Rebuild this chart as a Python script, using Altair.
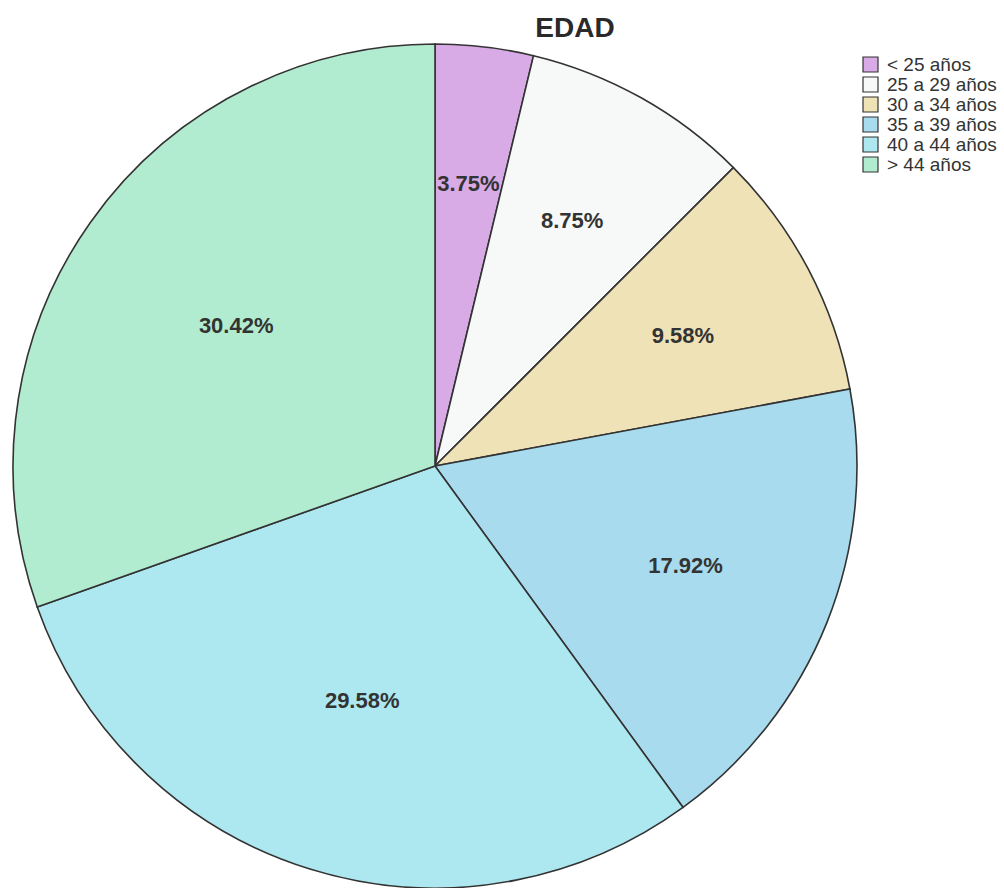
import altair as alt
import pandas as pd

categories = ["< 25 años", "25 a 29 años", "30 a 34 años", "35 a 39 años", "40 a 44 años", "> 44 años"]
percentages = [3.75, 8.75, 9.58, 17.92, 29.58, 30.42]
colors = ["#d9abe6", "#f7f9f9", "#eee2b6", "#a8dbed", "#ade8f1", "#b2ecd0"]
title_text = ["EDAD"]

df = pd.DataFrame({
    "cat": categories,
    "pct": percentages,
    "idx": list(range(len(categories))),
})
df["label"] = [f"{p:.2f}%" for p in percentages]

CX, CY, R = 435, 466, 422

arcs = alt.Chart(df).mark_arc(stroke="#333333", strokeWidth=1.6).encode(
    theta=alt.Theta("pct:Q", stack=True, scale=alt.Scale(domain=[0, 100])),
    order=alt.Order("idx:O"),
    x=alt.value(CX),
    y=alt.value(CY),
    radius=alt.value(R),
    color=alt.Color(
        "cat:N",
        scale=alt.Scale(domain=categories, range=colors),
        legend=alt.Legend(
            title=None,
            orient="none",
            legendX=861,
            legendY=55,
            padding=0,
            symbolType="square",
            symbolSize=225,
            symbolStrokeColor="#333333",
            symbolStrokeWidth=1.2,
            labelFontSize=19,
            labelFont="Liberation Sans",
            labelColor="#333333",
            rowPadding=-1,
            labelOffset=7,
            labelLimit=300,
        ),
    ),
)

labels = alt.Chart(df).mark_text(
    font="Liberation Sans", fontSize=22, fontWeight="bold", color="#333333"
).transform_window(
    cum="sum(pct)", sort=[alt.SortField("idx")]
).transform_calculate(
    mid="datum.cum - datum.pct/2",
    lr=f"2*{R}*sin(PI*datum.pct/100)/(3*PI*datum.pct/100) + 3",
).encode(
    theta=alt.Theta("mid:Q", stack=None, scale=alt.Scale(domain=[0, 100])),
    x=alt.value(CX),
    y=alt.value(CY),
    radius=alt.Radius("lr:Q", scale=None),
    text="label:N",
)

title = alt.Chart(pd.DataFrame({"t": title_text})).mark_text(
    font="Liberation Sans", fontSize=28, fontWeight="bold", color="#2a2a2a"
).encode(
    x=alt.value(575),
    y=alt.value(29),
    text="t:N",
)

chart = alt.layer(arcs, labels, title).resolve_scale(theta="independent").properties(
    width=1004, height=888,
    autosize=alt.AutoSizeParams(type="none"),
    padding=0,
).configure_view(stroke=None)

chart.save("out.html", embed_options={"renderer": "svg", "actions": False})
